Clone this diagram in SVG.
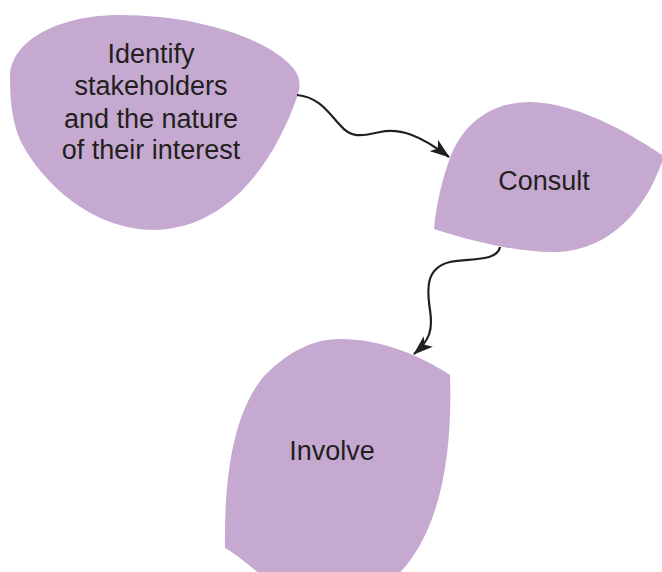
<svg xmlns="http://www.w3.org/2000/svg" width="662" height="572" viewBox="0 0 662 572">
<style>
.node{fill:#C5A9D1;stroke:none}
.lbl{font-family:"Liberation Sans",Arial,sans-serif;font-size:27px;fill:#231F20;text-anchor:middle}
.conn{fill:none;stroke:#231F20;stroke-width:2.2;marker-end:url(#arr)}
</style>
<defs>
<marker id="arr" viewBox="0 0 20 14" refX="19" refY="7" markerWidth="20" markerHeight="14" markerUnits="userSpaceOnUse" orient="auto">
<path d="M0,0 L20,7 L0,14 L5,7 Z" fill="#231F20"/>
</marker>
</defs>
<rect width="662" height="572" fill="#fff"/>
<g id="identify">
<path class="node" d="M10,80 C8,40 60,15 120,15 C200,15 270,40 293,68 C302,78 300,90 297,97 C275,160 230,228 155,230 C90,230 40,180 20,140 C12,120 10,100 10,80 Z"/>
<text class="lbl" x="151" y="63">Identify</text>
<text class="lbl" x="151" y="95">stakeholders</text>
<text class="lbl" x="151" y="128">and the nature</text>
<text class="lbl" x="151" y="159">of their interest</text>
</g>
<g id="consult">
<path class="node" d="M450,158 C462,125 490,102 530,102 C575,103 625,130 662,155 L662,162 C645,210 610,250 557,252 C520,253 475,242 434,229 C436,205 442,180 450,158 Z"/>
<text class="lbl" x="544" y="190">Consult</text>
</g>
<g id="involve">
<path class="node" d="M225,548 C224,470 235,410 265,375 C290,350 315,339 340,339 C380,339 420,355 450,375 C452,440 445,500 420,545 C410,562 400,575 390,580 L270,580 C255,572 240,556 225,548 Z"/>
<text class="lbl" x="332" y="460">Involve</text>
</g>
<g id="connectors">
<path class="conn" d="M297,95 C320,97 330,115 340,125 C352,140 365,135 380,132 C400,128 420,135 449,157"/>
<path class="conn" d="M500,247 C497,262 470,258 450,262 C425,268 427,290 430,310 C433,330 430,340 414,354"/>
</g>
</svg>
